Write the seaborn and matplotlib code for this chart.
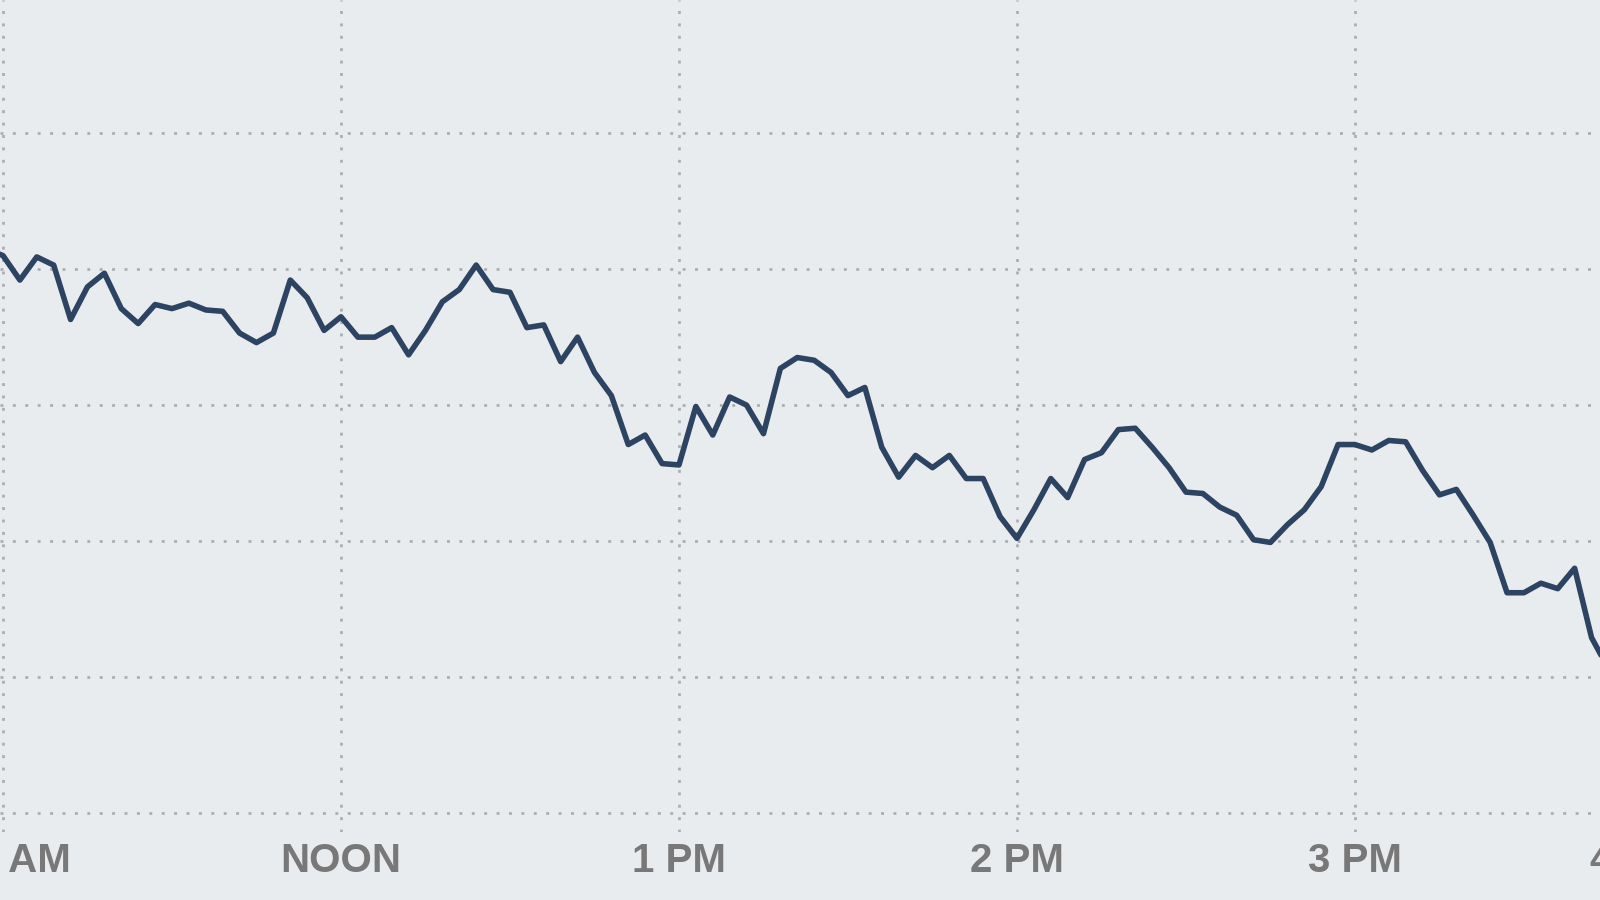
import matplotlib
matplotlib.use("Agg")
import matplotlib.pyplot as plt
import numpy as np
import pandas as pd
import seaborn as sns

# Prices, one every 3 minutes from 10:57
prices = [
    12901.5, 12901.0, 12899.2, 12900.9, 12900.3, 12896.3, 12898.7, 12899.7,
    12897.1, 12896.0, 12897.4, 12897.1, 12897.5, 12897.0, 12896.9, 12895.3,
    12894.6, 12895.3, 12899.2, 12897.9, 12895.5, 12896.5, 12895.0, 12895.0,
    12895.7, 12893.7, 12895.5, 12897.6, 12898.5, 12900.3, 12898.5, 12898.3,
    12895.7, 12895.9, 12893.2, 12895.0, 12892.4, 12890.7, 12887.1, 12887.8,
    12885.7, 12885.6, 12889.9, 12887.8, 12890.6, 12890.0, 12887.9, 12892.7,
    12893.5, 12893.3, 12892.4, 12890.7, 12891.3, 12886.9, 12884.7, 12886.3,
    12885.4, 12886.3, 12884.6, 12884.6, 12881.8, 12880.2, 12882.3, 12884.6,
    12883.2, 12886.0, 12886.5, 12888.2, 12888.3, 12886.9, 12885.4, 12883.6,
    12883.5, 12882.5, 12881.9, 12880.1, 12879.9, 12881.2, 12882.3, 12884.0,
    12887.1, 12887.1, 12886.7, 12887.4, 12887.3, 12885.2, 12883.4, 12883.8,
    12881.9, 12879.9, 12876.2, 12876.2, 12876.9, 12876.5, 12878.0, 12872.9,
    12870.6,
]
# minutes after 11:00
minutes = [-3 + 3 * i for i in range(len(prices))]

tick_minutes = [0, 60, 120, 180, 240]
tick_labels = ["", "NOON", "1 PM", "2 PM", "3 PM"]
grid_levels = [12860, 12870, 12880, 12890, 12900, 12910]

df = pd.DataFrame({"minute": minutes, "price": prices})

bg = "#e9ecee"
label_color = "#787878"
sns.set_theme(style="white")
plt.rcParams["font.family"] = ["Liberation Sans", "DejaVu Sans"]

fig = plt.figure(figsize=(16, 9), dpi=100, facecolor=bg)
ax = fig.add_axes([0, 68 / 900, 1, 832 / 900])
ax.set_facecolor(bg)

sns.lineplot(data=df, x="minute", y="price", ax=ax, color="#2c4361",
             linewidth=4.0, solid_joinstyle="round", solid_capstyle="round")

ax.set_xlim(-0.53, 283.5)
ax.set_ylim(12858.6, 12919.8)

ax.set_xticks(tick_minutes)
ax.set_xticklabels(tick_labels, fontweight="bold")
ax.set_yticks(grid_levels)
ax.set_yticklabels([])
ax.tick_params(axis="x", length=0, pad=7, labelsize=29, labelcolor=label_color)
ax.tick_params(axis="y", length=0)
ax.set_xlabel("")
ax.set_ylabel("")

ax.set_axisbelow(True)
ax.grid(True, color="#a9acae", linewidth=1.9, linestyle=(0, (1.1, 3.6)))
for s in ax.spines.values():
    s.set_visible(False)

# edge labels: 11 AM and 4 PM are cut off by the figure border
label_y = -9.7 / 832
ax.text(1.9, label_y, "11 AM", transform=ax.get_xaxis_transform(),
        ha="center", va="top", fontsize=29, fontweight="bold", color=label_color)
ax.text(281.7, label_y, "4 PM", transform=ax.get_xaxis_transform(),
        ha="left", va="top", fontsize=29, fontweight="bold", color=label_color)

fig.savefig("out.png", dpi=100, facecolor=bg)
